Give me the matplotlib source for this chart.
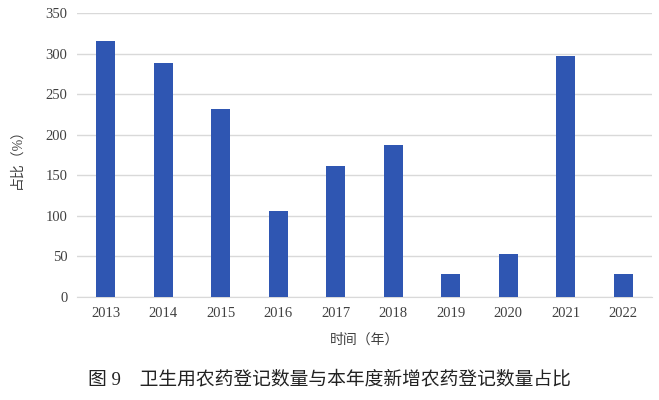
import matplotlib
matplotlib.use("Agg")
import matplotlib.pyplot as plt

years = ["2013", "2014", "2015", "2016", "2017", "2018", "2019", "2020", "2021", "2022"]
ratios = [315, 288, 232, 106, 162, 187, 28, 53, 297, 28]
yticks = [0, 50, 100, 150, 200, 250, 300, 350]

fam = ["Liberation Serif", "Noto Sans CJK SC"]
plt.rcParams["font.family"] = fam

fig = plt.figure(figsize=(6.59, 4.0), dpi=100)
ax = fig.add_axes([0.117, 0.2575, 0.872, 0.71])
x = list(range(len(years)))
ax.bar(x, ratios, width=0.33, color="#2F56B2", zorder=3)
ax.set_xlim(-0.5, len(years) - 0.5)
ax.set_ylim(0, 350)
ax.set_yticks(yticks)
ax.set_xticks(x)
ax.set_xticklabels(years)
ax.yaxis.grid(True, color="#D9D9D9", linewidth=1.0, zorder=0)
for s in ["top", "right", "left"]:
    ax.spines[s].set_visible(False)
ax.spines["bottom"].set_color("#D9D9D9")
ax.tick_params(axis="both", length=0, labelsize=10.5, colors="#404040", pad=7)
ax.set_ylabel("占比（%）", fontsize=10, color="#404040", labelpad=16)
ax.set_xlabel("时间（年）", fontsize=10, color="#404040", labelpad=10)
fig.text(0.50, 0.05, "图 9　卫生用农药登记数量与本年度新增农药登记数量占比",
         ha="center", va="center", fontsize=13.5, color="#222222")
fig.savefig("out.png", dpi=100)
